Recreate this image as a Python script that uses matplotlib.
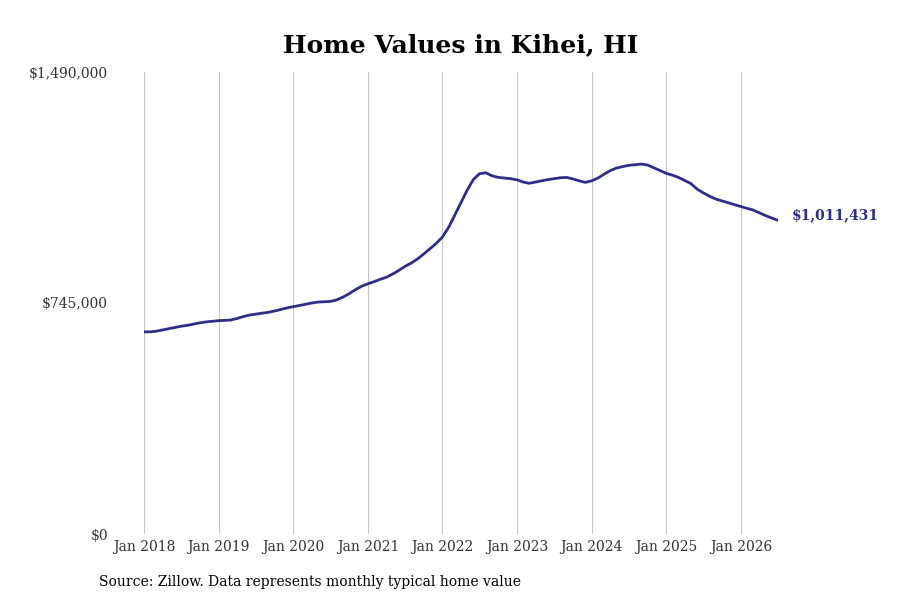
import matplotlib
matplotlib.use("Agg")
import matplotlib.pyplot as plt
import pandas as pd
import numpy as np

plt.rcParams['font.family'] = ['DejaVu Serif']

# Monthly typical home value (thousands of $), Jan 2018 - Jul 2026
values_k = [
    652, 652, 654, 658, 662, 666, 670, 673, 677, 681, 684, 686,          # 2018
    688, 689, 690, 695, 701, 706, 709, 712, 715, 719, 724, 729,          # 2019
    733, 737, 741, 745, 748, 749, 750, 755, 764, 775, 788, 799,          # 2020
    807, 814, 821, 828, 838, 850, 863, 874, 887, 903, 920, 937,          # 2021
    958, 990, 1027, 1068, 1108, 1143, 1162, 1165, 1155, 1150, 1148, 1146,  # 2022
    1142, 1135, 1131, 1135, 1139, 1143, 1146, 1149, 1150, 1145, 1139, 1134,  # 2023
    1139, 1148, 1160, 1172, 1180, 1185, 1189, 1191, 1193, 1190, 1181, 1172,  # 2024
    1163, 1157, 1150, 1140, 1130, 1112, 1100, 1089, 1080, 1074, 1068, 1062,  # 2025
    1056, 1050, 1045, 1036, 1027, 1019, 1011.431,                         # 2026
]
dates = pd.date_range("2018-01-01", periods=len(values_k), freq="MS")
values = np.array(values_k) * 1000

title = "Home Values in Kihei, HI"
source = "Source: Zillow. Data represents monthly typical home value"
yticks = [0, 745000, 1490000]
ytick_labels = ["$0", "$745,000", "$1,490,000"]
xtick_years = list(range(2018, 2027))
end_label = "$1,011,431"
line_color = "#2e2d8c"

fig = plt.figure(figsize=(9, 6), dpi=100)
ax = fig.add_axes([0.16, 0.11, 0.7044, 0.77])

ax.plot(dates, values, color=line_color, linewidth=2.0, solid_capstyle='round')

ax.set_ylim(0, 1490000)
ax.set_xlim(dates[0], dates[-1])
ax.set_yticks(yticks)
ax.set_yticklabels(ytick_labels)
xt = [pd.Timestamp(f"{y}-01-01") for y in xtick_years]
ax.set_xticks(xt)
ax.set_xticklabels([f"Jan {y}" for y in xtick_years])

for s in ax.spines.values():
    s.set_visible(False)
ax.tick_params(axis='both', length=0, labelsize=10, colors='#333333')
ax.tick_params(axis='y', pad=26)
ax.tick_params(axis='x', pad=4)
ax.grid(axis='x', color='#c4c4c4', linewidth=0.8)
ax.grid(axis='y', visible=False)
ax.set_axisbelow(True)

ax.annotate(end_label, xy=(dates[-1], values[-1]), xytext=(10, 4),
            textcoords='offset points', color=line_color, fontweight='bold',
            fontsize=10, va='center', ha='left', annotation_clip=False)

fig.text(0.512, 0.925, title, ha='center', va='center', fontsize=18,
         fontweight='bold', color='black')
fig.text(0.11, 0.03, source, ha='left', va='center', fontsize=10, color='black')

fig.savefig("out.png", dpi=100, facecolor='white')
